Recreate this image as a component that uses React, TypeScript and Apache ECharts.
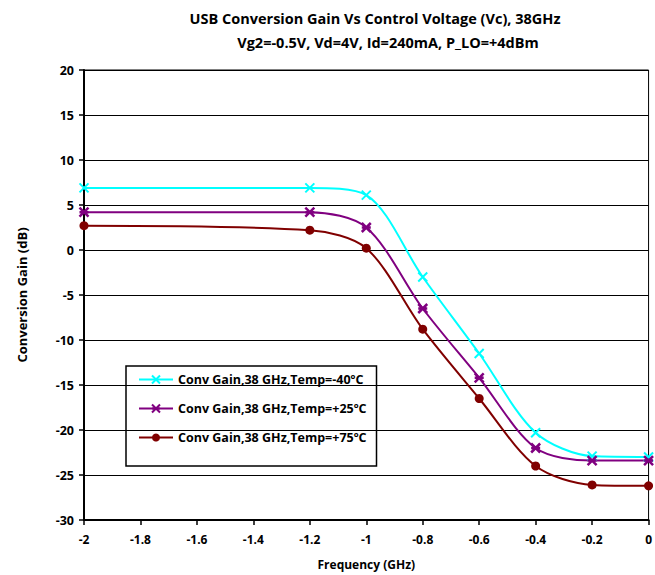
import React, { useEffect, useRef } from "react";
import * as echarts from "echarts";

const xValues = [-2, -1.2, -1, -0.8, -0.6, -0.4, -0.2, 0];
const coldGain = [6.9, 6.9, 6.1, -3.0, -11.5, -20.3, -22.9, -23.0];
const roomGain = [4.2, 4.2, 2.5, -6.5, -14.2, -22.0, -23.4, -23.4];
const hotGain = [2.7, 2.2, 0.2, -8.8, -16.5, -24.0, -26.1, -26.2];
const seriesNames = [
  "Conv Gain,38 GHz,Temp=-40ºC",
  "Conv Gain,38 GHz,Temp=+25ºC",
  "Conv Gain,38 GHz,Temp=+75ºC",
];
const titleLine1 = "USB Conversion Gain Vs Control Voltage (Vc), 38GHz";
const titleLine2 = "Vg2=-0.5V, Vd=4V, Id=240mA, P_LO=+4dBm";

const FONT = "'Open Sans', 'Noto Sans', sans-serif";
const crossPath = "path://M0,0L10,10M10,0L0,10";
const starPath = "path://M0,0L10,10M10,0L0,10M0,5L10,5";

export default function App() {
  const ref = useRef<HTMLDivElement>(null);
  useEffect(() => {
    if (!ref.current) return;
    const chart = echarts.init(ref.current, undefined, { renderer: "svg" });
    const mk = (vals: number[]) => xValues.map((x, i) => [x, vals[i]]);
    chart.setOption({
      animation: false,
      backgroundColor: "#fff",
      title: [
        {
          text: titleLine1,
          left: 370,
          top: 6,
          textAlign: "center",
          textStyle: { fontFamily: FONT, fontWeight: "bold", fontSize: 14.5, color: "#000" },
        },
        {
          text: titleLine2,
          left: 383,
          top: 30,
          textAlign: "center",
          textStyle: { fontFamily: FONT, fontWeight: "bold", fontSize: 14.5, color: "#000" },
        },
      ],
      grid: { left: 84, right: 3, top: 70, bottom: 49, show: true, borderColor: "#000", borderWidth: 1 },
      legend: {
        orient: "vertical",
        left: 126,
        top: 366,
        width: 245,
        borderColor: "#000",
        borderWidth: 1.5,
        padding: [5, 10, 20, 12],
        itemGap: 12,
        itemWidth: 34,
        itemHeight: 10,
        textStyle: { fontFamily: FONT, fontWeight: "bold", fontSize: 12.5, color: "#000", lineHeight: 17 },
        data: seriesNames,
      },
      xAxis: {
        type: "value",
        min: -2,
        max: 0,
        interval: 0.2,
        name: "Frequency (GHz)",
        nameLocation: "middle",
        nameGap: 38,
        nameTextStyle: { fontFamily: FONT, fontWeight: "bold", fontSize: 12, color: "#000" },
        axisLine: { show: true, onZero: false, lineStyle: { color: "#000", width: 2 } },
        axisTick: { show: true, length: 5, lineStyle: { color: "#000", width: 1.5 } },
        axisLabel: { fontFamily: FONT, fontWeight: "bold", fontSize: 12, color: "#000", margin: 13 },
        splitLine: { show: false },
      },
      yAxis: {
        type: "value",
        min: -30,
        max: 20,
        interval: 5,
        name: "Conversion Gain (dB)",
        nameLocation: "middle",
        nameGap: 56,
        nameTextStyle: { fontFamily: FONT, fontWeight: "bold", fontSize: 13, color: "#000" },
        axisLine: { show: true, onZero: false, lineStyle: { color: "#000", width: 2 } },
        axisTick: { show: true, length: 5, lineStyle: { color: "#000", width: 1.5 } },
        axisLabel: { fontFamily: FONT, fontWeight: "bold", fontSize: 12.5, color: "#000", margin: 10 },
        splitLine: { show: true, lineStyle: { color: "#000", width: 1.2 } },
      },
      series: [
        {
          name: seriesNames[0],
          type: "line",
          smooth: 0.3,
          data: mk(coldGain),
          symbol: crossPath,
          symbolSize: 9,
          lineStyle: { color: "#00FFFF", width: 2 },
          itemStyle: { color: "#00FFFF", borderColor: "#00FFFF", borderWidth: 2 },
        },
        {
          name: seriesNames[1],
          type: "line",
          smooth: 0.3,
          data: mk(roomGain),
          symbol: starPath,
          symbolSize: 9,
          lineStyle: { color: "#800080", width: 2 },
          itemStyle: { color: "#800080", borderColor: "#800080", borderWidth: 2.5 },
        },
        {
          name: seriesNames[2],
          type: "line",
          smooth: 0.3,
          data: mk(hotGain),
          symbol: "circle",
          symbolSize: 9,
          lineStyle: { color: "#800000", width: 2 },
          itemStyle: { color: "#800000", borderColor: "#800000", borderWidth: 0 },
        },
      ],
    });
    return () => chart.dispose();
  }, []);
  return <div ref={ref} style={{ width: 655, height: 575, position: "absolute", left: 0, top: 0 }} />;
}
